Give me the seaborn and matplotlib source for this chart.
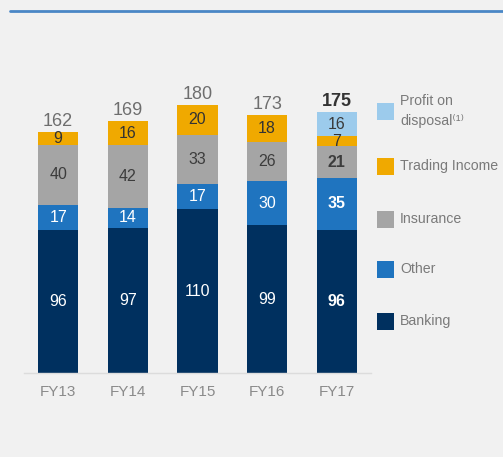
import numpy as np
import pandas as pd
import matplotlib
matplotlib.use("Agg")
import matplotlib.pyplot as plt
from matplotlib.lines import Line2D
from matplotlib.patches import Rectangle
import seaborn as sns

years = ["FY13", "FY14", "FY15", "FY16", "FY17"]
banking = [96, 97, 110, 99, 96]
other = [17, 14, 17, 30, 35]
insurance = [40, 42, 33, 26, 21]
trading = [9, 16, 20, 18, 7]
profit = [0, 0, 0, 0, 16]
totals = [162, 169, 180, 173, 175]

series_names = ["Banking", "Other", "Insurance", "Trading Income", "Profit on\ndisposal\u207d\u00b9\u207e"]
series_vals = [banking, other, insurance, trading, profit]
colors = ["#00305f", "#1f74bf", "#a5a5a5", "#f0a900", "#9ccbec"]
label_colors = ["#ffffff", "#ffffff", "#3c3c3c", "#333333", "#3a3a3a"]
bold_last = [True, True, True, False, False]

sns.set_theme(style="white")
FAM = ["Liberation Sans", "DejaVu Sans"]
plt.rcParams["font.family"] = FAM
BG = "#f1f1f1"

fig = plt.figure(figsize=(5.03, 4.57), dpi=100, facecolor=BG)
ax = fig.add_axes([24/503, 84/457, 347/503, 313/457])
ax.set_facecolor(BG)

cum = np.zeros(len(years))
cums = []
for vals in series_vals:
    cum = cum + np.array(vals)
    cums.append(cum.copy())

# draw from top layer down so lower layers overlap
for i in range(len(series_vals) - 1, -1, -1):
    d = pd.DataFrame({"year": years, "v": cums[i]})
    sns.barplot(data=d, x="year", y="v", color=colors[i], saturation=1,
                width=0.575, errorbar=None, ax=ax, order=years, linewidth=0)

# segment labels
for i, vals in enumerate(series_vals):
    for j, v in enumerate(vals):
        if v <= 0:
            continue
        mid = cums[i][j] - v / 2
        bold = (j == len(years) - 1) and bold_last[i]
        ax.text(j, mid, str(v), ha="center", va="center", fontsize=11.5,
                color=label_colors[i], fontweight="bold" if bold else "normal")

for j, t in enumerate(totals):
    bold = (j == len(years) - 1)
    ax.text(j, t + 1.2, str(t), ha="center", va="bottom", fontsize=13,
            color="#333333" if bold else "#6e6e6e",
            fontweight="bold" if bold else "normal")

ax.set_xlim(-0.49, 4.49)
ax.set_ylim(0, 210)
ax.set_xlabel("")
ax.set_ylabel("")
ax.set_yticks([])
for s in ["top", "right", "left"]:
    ax.spines[s].set_visible(False)
ax.spines["bottom"].set_color("#dcdcdc")
ax.spines["bottom"].set_linewidth(1)
ax.tick_params(axis="x", length=0, pad=9, labelsize=11, labelcolor="#8a8a8a")

# top blue rule
fig.add_artist(Line2D([10/503, 1], [1 - 11/457, 1 - 11/457], color="#4a87c6", lw=2))

# legend (manual)
leg_y = [321, 269, 219, 166, 111]
for i in range(len(series_names)):
    yc = 1 - leg_y[i] / 457
    fig.add_artist(Rectangle((377/503, yc - 8.5/457), 17/503, 17/457,
                             facecolor=colors[i], edgecolor="none",
                             transform=fig.transFigure))
    fig.text(400/503, yc, series_names[i], ha="left", va="center",
             fontsize=10.2, color="#7a7a7a", linespacing=1.5)

fig.savefig("out.png", dpi=100, facecolor=BG)
